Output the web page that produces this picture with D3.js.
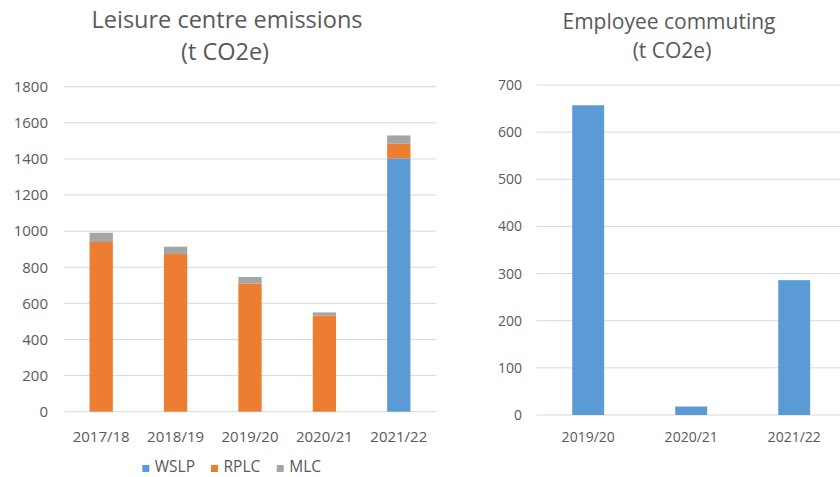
<!DOCTYPE html>
<html><head><meta charset="utf-8">
<script src="https://cdn.jsdelivr.net/npm/d3@7"></script>
<style>
html,body{margin:0;padding:0;background:#fff;}
svg{display:block;font-family:"Open Sans",sans-serif;}
</style></head>
<body>
<svg id="c" width="840" height="477"></svg>
<script>
// ---- data ----
const leisureYears = ["2017/18","2018/19","2019/20","2020/21","2021/22"];
const leisureSeries = ["WSLP","RPLC","MLC"];
const wslp = [0, 0, 0, 0, 1403];
const rplc = [940, 873, 709, 532, 81];
const mlc  = [51, 41, 37, 18, 46];
const leisureTicks = [0,200,400,600,800,1000,1200,1400,1600,1800];

const commuteYears = ["2019/20","2020/21","2021/22"];
const commuteValues = [657, 18, 286];
const commuteTicks = [0,100,200,300,400,500,600,700];

const colors = {WSLP:"#5B9BD5", RPLC:"#ED7D31", MLC:"#A5A5A5"};
const textCol = "#595959", gridCol = "#D9D9D9";
const fmt = d3.format("d");

const svg = d3.select("#c");

// ---- Left chart ----
const L = {x0:64, x1:436, yTop:86.7, yBot:411.7};
const xL = d3.scaleBand().domain(leisureYears).range([L.x0, L.x1]).paddingInner(0.687).paddingOuter(0.3435);
const yL = d3.scaleLinear().domain([0,1800]).range([L.yBot, L.yTop]);

const gL = svg.append("g");
gL.append("g").selectAll("line").data(leisureTicks).join("line")
  .attr("x1", L.x0).attr("x2", L.x1)
  .attr("y1", d=>yL(d)).attr("y2", d=>yL(d))
  .attr("stroke", gridCol).attr("stroke-width", 1);

const yAxisL = d3.axisLeft(yL).tickValues(leisureTicks).tickFormat(fmt).tickSize(0).tickPadding(0);
gL.append("g").attr("transform", `translate(48,0)`).call(yAxisL)
  .call(g=>g.select(".domain").remove())
  .selectAll("text").attr("fill", textCol).attr("font-size", 15).attr("font-family","Open Sans");

const rows = leisureYears.map((y,i)=>({year:y, WSLP:wslp[i], RPLC:rplc[i], MLC:mlc[i]}));
const stack = d3.stack().keys(leisureSeries)(rows);
gL.append("g").selectAll("g").data(stack).join("g")
  .attr("fill", d=>colors[d.key])
  .selectAll("rect").data(d=>d).join("rect")
  .attr("x", d=>xL(d.data.year))
  .attr("width", xL.bandwidth())
  .attr("y", d=>yL(d[1]))
  .attr("height", d=>yL(d[0])-yL(d[1]));

const xAxisL = d3.axisBottom(xL).tickSize(0).tickPadding(0);
gL.append("g").attr("transform", `translate(0,${L.yBot+30})`).call(xAxisL)
  .call(g=>g.select(".domain").remove())
  .selectAll("text").attr("fill", textCol).attr("font-size", 15).attr("font-family","Open Sans")
  .attr("dy", 0);

// title
const tL = svg.append("text").attr("text-anchor","middle").attr("fill", textCol)
  .attr("font-size", 23.5).attr("font-family","Open Sans");
tL.append("tspan").attr("x", 227).attr("y", 28).text("Leisure centre emissions");
tL.append("tspan").attr("x", 225).attr("y", 60).text("(t CO2e)");

// legend
const legendX = [142.3, 211, 276.7];
const lg = svg.append("g");
leisureSeries.forEach((k,i)=>{
  lg.append("rect").attr("x", legendX[i]).attr("y", 465).attr("width", 7).attr("height", 7).attr("fill", colors[k]);
  lg.append("text").attr("x", legendX[i]+12.5).attr("y", 472).attr("fill", textCol)
    .attr("font-size", 15.5).attr("font-family","Open Sans").text(k);
});

// ---- Right chart ----
const R = {x0:536.7, x1:845.7, yTop:85, yBot:415};
const xR = d3.scaleBand().domain(commuteYears).range([R.x0, R.x1]).paddingInner(0.69).paddingOuter(0.345);
const yR = d3.scaleLinear().domain([0,700]).range([R.yBot, R.yTop]);
const gR = svg.append("g");
gR.append("g").selectAll("line").data(commuteTicks).join("line")
  .attr("x1", R.x0).attr("x2", R.x1)
  .attr("y1", d=>yR(d)).attr("y2", d=>yR(d))
  .attr("stroke", gridCol).attr("stroke-width", 1);
gR.append("g").attr("transform", `translate(522,0)`).call(d3.axisLeft(yR).tickValues(commuteTicks).tickFormat(fmt).tickSize(0).tickPadding(0))
  .call(g=>g.select(".domain").remove())
  .selectAll("text").attr("fill", textCol).attr("font-size", 14).attr("font-family","Open Sans");
gR.append("g").selectAll("rect").data(commuteYears.map((y,i)=>({year:y, v:commuteValues[i]}))).join("rect")
  .attr("x", d=>xR(d.year)).attr("width", xR.bandwidth())
  .attr("y", d=>yR(d.v)).attr("height", d=>yR(0)-yR(d.v))
  .attr("fill", colors.WSLP);
gR.append("g").attr("transform", `translate(0,${R.yBot+27})`).call(d3.axisBottom(xR).tickSize(0).tickPadding(0))
  .call(g=>g.select(".domain").remove())
  .selectAll("text").attr("fill", textCol).attr("font-size", 14).attr("font-family","Open Sans").attr("dy",0);

const tR = svg.append("text").attr("text-anchor","middle").attr("fill", textCol)
  .attr("font-size", 21).attr("font-family","Open Sans");
tR.append("tspan").attr("x", 669).attr("y", 29).text("Employee commuting");
tR.append("tspan").attr("x", 672).attr("y", 58).text("(t CO2e)");
</script>
</body></html>
